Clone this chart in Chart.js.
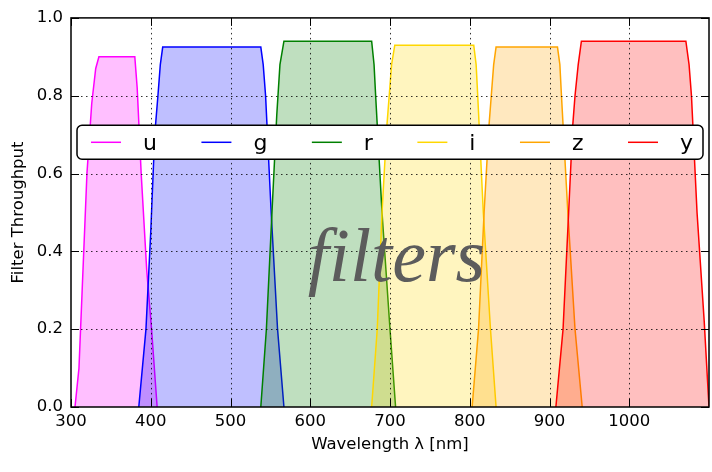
<!DOCTYPE html>
<html>
<head>
<meta charset="utf-8">
<script src="https://cdn.jsdelivr.net/npm/chart.js@4.4.0/dist/chart.umd.min.js"></script>
<style>
  body { margin: 0; background: #fff; }
  #wrap { width: 712px; height: 472px; }
</style>
</head>
<body>
<div id="wrap"><canvas id="filterChart" width="712" height="472"></canvas></div>
<script>
// band names and colours
const bands = ["u", "g", "r", "i", "z", "y"];
const bandColors = ["#ff00ff", "#0000ff", "#008000", "#ffd700", "#ffa500", "#ff0000"];
const bandFills = ["rgba(255,0,255,0.25)", "rgba(0,0,255,0.25)", "rgba(0,128,0,0.25)",
                   "rgba(255,215,0,0.25)", "rgba(255,165,0,0.25)", "rgba(255,0,0,0.25)"];

// throughput curves: wavelength [nm] and throughput
const uWave = [305, 310, 314, 320, 326, 331, 335, 380, 383, 388, 395, 401, 408];
const uThru = [0.0, 0.1, 0.3, 0.6, 0.78, 0.87, 0.9, 0.9, 0.82, 0.6, 0.35, 0.2, 0.0];
const gWave = [385, 394, 400, 405, 409, 412, 415, 538, 541, 544, 551, 559, 567];
const gThru = [0.0, 0.2, 0.45, 0.7, 0.8, 0.88, 0.925, 0.925, 0.88, 0.8, 0.5, 0.2, 0.0];
const rWave = [538, 545, 552, 558, 562, 567, 677, 680, 682, 690, 700, 707];
const rThru = [0.0, 0.2, 0.5, 0.75, 0.88, 0.94, 0.94, 0.88, 0.8, 0.5, 0.2, 0.0];
const iWave = [677, 684, 690, 696, 699, 702, 706, 805, 808, 810, 817, 826, 833];
const iThru = [0.0, 0.2, 0.5, 0.72, 0.8, 0.88, 0.93, 0.93, 0.88, 0.8, 0.5, 0.2, 0.0];
const zWave = [803, 811, 818, 824, 827, 830, 833, 910, 913, 915, 923, 932, 941];
const zThru = [0.0, 0.2, 0.5, 0.72, 0.8, 0.88, 0.925, 0.925, 0.88, 0.8, 0.5, 0.2, 0.0];
const yWave = [908, 917, 924, 929, 932, 936, 940, 1071, 1075, 1078, 1085, 1094, 1100];
const yThru = [0.0, 0.2, 0.5, 0.72, 0.8, 0.88, 0.94, 0.94, 0.88, 0.8, 0.5, 0.22, 0.0];

const waves = [uWave, gWave, rWave, iWave, zWave, yWave];
const thrus = [uThru, gThru, rThru, iThru, zThru, yThru];

const xTicks = [300, 400, 500, 600, 700, 800, 900, 1000];
const yTicks = [0.0, 0.2, 0.4, 0.6, 0.8, 1.0];

const FONT = "'DejaVu Sans', sans-serif";

const datasets = bands.map((b, k) => ({
    label: b,
    data: waves[k].map((w, j) => ({ x: w, y: thrus[k][j] })),
    borderColor: bandColors[k],
    backgroundColor: bandFills[k],
    borderWidth: 1.5,
    pointRadius: 0,
    tension: 0,
    fill: "origin",
    order: bands.length - k
}));

// dotted grid, inward ticks, the axes frame, label and legend
const framePlugin = {
    id: "frame",
    afterDatasetsDraw(chart) {
        const { ctx, chartArea: a, scales: { x, y } } = chart;
        ctx.save();
        ctx.strokeStyle = "rgba(0,0,0,0.8)";
        ctx.lineWidth = 1;
        ctx.setLineDash([1.5, 3.5]);
        xTicks.forEach(v => {
            const px = Math.round(x.getPixelForValue(v)) + 0.5;
            if (px <= a.left + 1 || px >= a.right - 1) return;
            ctx.beginPath(); ctx.moveTo(px, a.top); ctx.lineTo(px, a.bottom); ctx.stroke();
        });
        yTicks.forEach(v => {
            const py = Math.round(y.getPixelForValue(v)) + 0.5;
            if (py <= a.top + 1 || py >= a.bottom - 1) return;
            ctx.beginPath(); ctx.moveTo(a.left, py); ctx.lineTo(a.right, py); ctx.stroke();
        });
        ctx.setLineDash([]);
        ctx.strokeStyle = "#000";
        ctx.lineWidth = 1;
        const tl = 8;
        xTicks.forEach(v => {
            const px = Math.round(x.getPixelForValue(v)) + 0.5;
            ctx.beginPath();
            ctx.moveTo(px, a.bottom); ctx.lineTo(px, a.bottom - tl);
            ctx.moveTo(px, a.top); ctx.lineTo(px, a.top + tl);
            ctx.stroke();
        });
        yTicks.forEach(v => {
            const py = Math.round(y.getPixelForValue(v)) + 0.5;
            ctx.beginPath();
            ctx.moveTo(a.left, py); ctx.lineTo(a.left + tl, py);
            ctx.moveTo(a.right, py); ctx.lineTo(a.right - tl, py);
            ctx.stroke();
        });

        // big italic label across the middle
        ctx.fillStyle = "#5c5c5c";
        ctx.font = "italic 76px 'Liberation Serif', serif";
        ctx.textAlign = "center";
        ctx.textBaseline = "alphabetic";
        ctx.fillText("filters", a.left + (a.right - a.left) * 0.51, a.top + (a.bottom - a.top) * 0.677);

        // legend: one row, columns spread across the box
        const boxL = a.left + 6, boxR = a.right - 6;
        const boxT = a.top + (a.bottom - a.top) * 0.276, boxH = 34;
        ctx.beginPath();
        ctx.roundRect(boxL, boxT, boxR - boxL, boxH, 5);
        ctx.fillStyle = "#fff";
        ctx.fill();
        ctx.lineWidth = 1.5;
        ctx.strokeStyle = "#000";
        ctx.stroke();

        ctx.font = "22px " + FONT;
        ctx.textAlign = "left";
        const handle = 30, gap = 22;
        const widths = bands.map(b => ctx.measureText(b).width);
        const inner = (boxR - 10) - (boxL + 14);
        const used = widths.reduce((s, w) => s + handle + gap + w, 0);
        const sep = (inner - used) / (bands.length - 1);
        let cx = boxL + 14;
        const cy = boxT + boxH / 2;
        bands.forEach((b, k) => {
            ctx.strokeStyle = bandColors[k];
            ctx.lineWidth = 1.5;
            ctx.beginPath(); ctx.moveTo(cx, cy); ctx.lineTo(cx + handle, cy); ctx.stroke();
            ctx.fillStyle = "#000";
            ctx.fillText(b, cx + handle + gap, cy + 8);
            cx += handle + gap + widths[k] + sep;
        });

        ctx.lineWidth = 1.5;
        ctx.strokeStyle = "#000";
        ctx.strokeRect(a.left, a.top, a.right - a.left, a.bottom - a.top);
        ctx.restore();
    }
};

new Chart(document.getElementById("filterChart"), {
    type: "line",
    data: { datasets: datasets },
    options: {
        responsive: false,
        animation: false,
        layout: { padding: { top: 15, right: 3, left: 0, bottom: 0 } },
        plugins: { legend: { display: false }, tooltip: { enabled: false } },
        scales: {
            x: {
                type: "linear",
                min: 300,
                max: 1100,
                afterBuildTicks: s => { s.ticks = xTicks.map(v => ({ value: v })); },
                afterFit: s => { s.height = 65; },
                grid: { display: false, drawTicks: false },
                border: { display: false },
                ticks: {
                    color: "#000", font: { family: FONT, size: 16.5 }, padding: 5, maxRotation: 0,
                    callback: v => String(v)
                },
                title: {
                    display: true, text: "Wavelength λ [nm]", color: "#000",
                    font: { family: FONT, size: 16.5 }, padding: { top: 0, bottom: 17 }
                }
            },
            y: {
                min: 0,
                max: 1,
                afterBuildTicks: s => { s.ticks = yTicks.map(v => ({ value: v })); },
                afterFit: s => { s.width = 71; },
                grid: { display: false, drawTicks: false },
                border: { display: false },
                ticks: {
                    color: "#000", font: { family: FONT, size: 16.5 }, padding: 8,
                    callback: v => v.toFixed(1)
                },
                title: {
                    display: true, text: "Filter Throughput", color: "#000",
                    font: { family: FONT, size: 16.5 }, padding: { top: 9, bottom: 0 }
                }
            }
        }
    },
    plugins: [framePlugin]
});
</script>
</body>
</html>
